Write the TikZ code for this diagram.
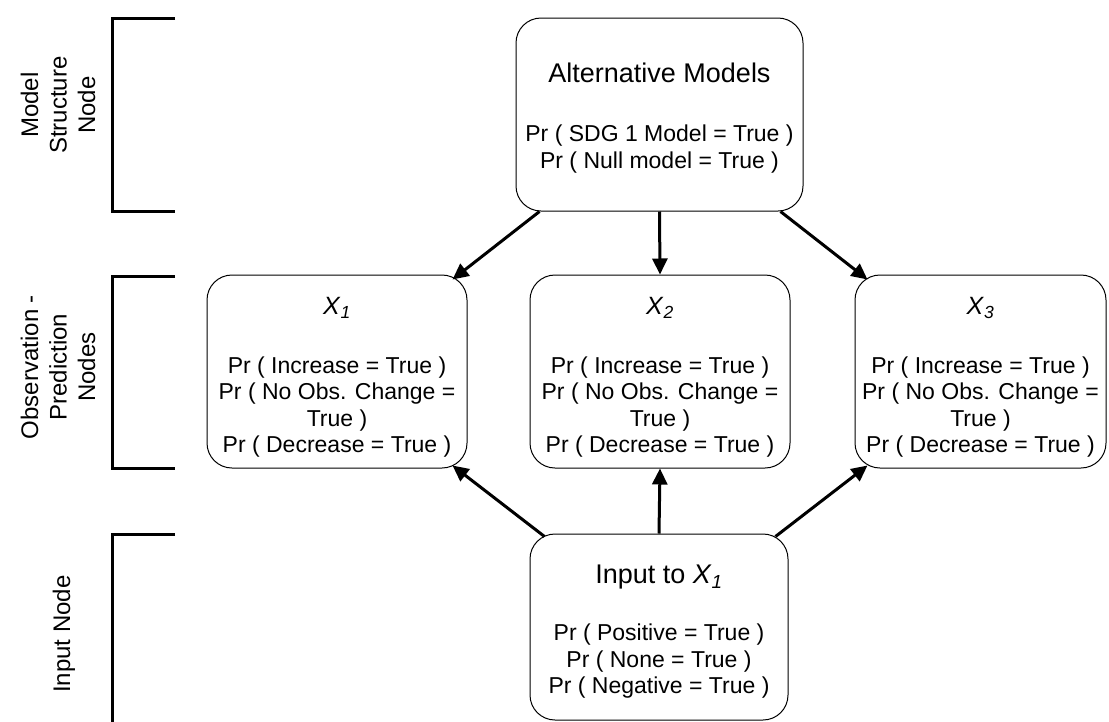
\documentclass[tikz,border=0pt]{standalone}
\usepackage{fontspec}
\setmainfont{Liberation Sans}
\usetikzlibrary{arrows.meta,calc}
\newcommand{\xsub}[1]{\textit{X}\textsubscript{\textit{#1}}}
\begin{document}
\begin{tikzpicture}[x=1pt,y=-1pt,
  box/.style={draw, line width=1pt, rounded corners=25pt, inner sep=0pt},
  txt/.style={align=center, inner sep=0pt, font=\fontsize{23}{26.5}\selectfont},
  conn/.style={line width=3pt, -{Triangle[length=16pt,width=15pt]}},
  bracket/.style={line width=3pt},
  side/.style={rotate=90, align=center, font=\fontsize{24}{28.5}\selectfont}]
\useasboundingbox (0,0) rectangle (1109,721);

% boxes
\node[box, minimum width=287pt, minimum height=193pt] (top) at (659.5,114.5) {};
\node[box, minimum width=260pt, minimum height=193pt] (x1) at (337,371.5) {};
\node[box, minimum width=260pt, minimum height=193pt] (x2) at (660,371.5) {};
\node[box, minimum width=251pt, minimum height=193pt] (x3) at (980.5,371.5) {};
\node[box, minimum width=258pt, minimum height=186pt] (in) at (659,627) {};

% box texts
\node[txt] (ttop) at ($(top)+(0,3.5)$)
  {{\fontsize{27}{26.5}\selectfont Alternative Models}\\[32.5pt]
   Pr ( SDG 1 Model = True )\\ Pr ( Null model = True )};
\node[txt] (tx1) at ($(x1)+(0,6)$)
  {{\fontsize{25}{26.5}\selectfont\xsub{1}}\\[32pt]
   Pr ( Increase = True )\\ Pr ( No Obs. Change =\\ True )\\ Pr ( Decrease = True )};
\node[txt] (tx2) at ($(x2)+(0,6)$)
  {{\fontsize{25}{26.5}\selectfont\xsub{2}}\\[32pt]
   Pr ( Increase = True )\\ Pr ( No Obs. Change =\\ True )\\ Pr ( Decrease = True )};
\node[txt] (tx3) at ($(x3)+(0,6)$)
  {{\fontsize{25}{26.5}\selectfont\xsub{3}}\\[32pt]
   Pr ( Increase = True )\\ Pr ( No Obs. Change =\\ True )\\ Pr ( Decrease = True )};
\node[txt] (tin) at ($(in)+(0,5)$)
  {{\fontsize{27}{26.5}\selectfont Input to \xsub{1}}\\[30.5pt]
   Pr ( Positive = True )\\ Pr ( None = True )\\ Pr ( Negative = True )};

% connectors
\draw[conn] ($(top.south west)+(24,0)$) -- ($(x1.north east)+(-15,5)$);
\draw[conn] (top.south) -- (x2.north);
\draw[conn] ($(top.south east)+(-23,0)$) -- ($(x3.north west)+(13,5)$);
\draw[conn] ($(in.north west)+(15,3)$) -- ($(x1.south east)+(-15,-3)$);
\draw[conn] (in.north) -- (x2.south);
\draw[conn] ($(in.north east)+(-13,3)$) -- ($(x3.south west)+(13,-3)$);

% brackets
\draw[bracket] (175,18) -- (112,18) -- (112,211) -- (175,211);
\draw[bracket] (175,276) -- (112,276) -- (112,468) -- (175,468);
\draw[bracket] (175,534) -- (112,534) -- (112,725);

% side labels
\node[side] (lab1) at (58,105) {Model\\Structure\\Node};
\node[side] (lab2) at (58,367) {Observation -\\Prediction\\Nodes};
\node[side] (lab3) at (64,634) {Input Node};
\end{tikzpicture}
\end{document}
